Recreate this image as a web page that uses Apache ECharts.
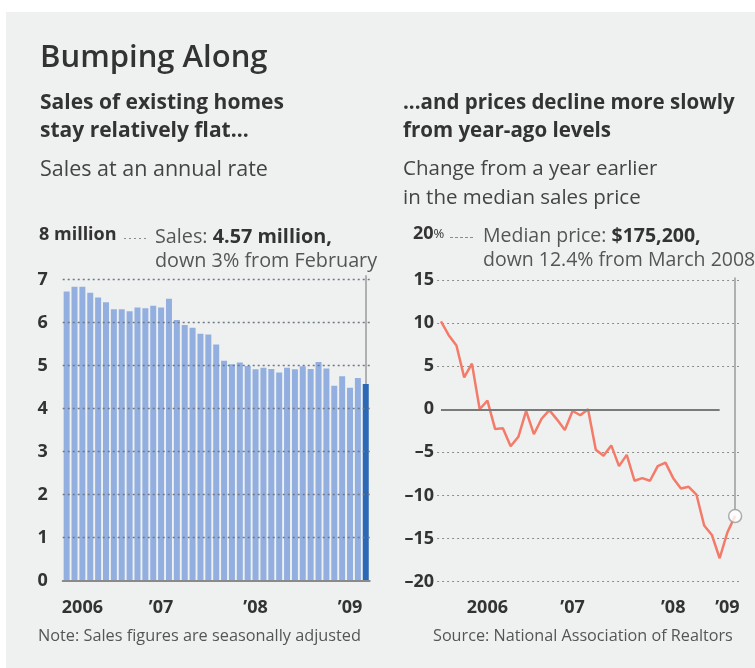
<!DOCTYPE html>
<html lang="en">
<head>
<meta charset="UTF-8">
<title>Bumping Along</title>
<script src="https://cdn.jsdelivr.net/npm/echarts@6/dist/echarts.min.js"></script>
<style>
  body { margin: 0; background: #fff; }
  #panel { position: absolute; left: 6px; top: 12px; width: 749px; height: 656px; background: #eff1f0; }
  #main { position: absolute; left: 0; top: 0; width: 755px; height: 668px; }
</style>
</head>
<body>
<div id="panel"></div>
<div id="main"></div>
<script>
// existing-home sales, millions at an annual rate, Jan 2006 - Mar 2009
var salesMonths = [
  '2006-01','2006-02','2006-03','2006-04','2006-05','2006-06','2006-07','2006-08','2006-09','2006-10','2006-11','2006-12',
  '2007-01','2007-02','2007-03','2007-04','2007-05','2007-06','2007-07','2007-08','2007-09','2007-10','2007-11','2007-12',
  '2008-01','2008-02','2008-03','2008-04','2008-05','2008-06','2008-07','2008-08','2008-09','2008-10','2008-11','2008-12',
  '2009-01','2009-02','2009-03'
];
var salesValues = [
  6.72, 6.83, 6.83, 6.69, 6.58, 6.47, 6.31, 6.31, 6.26, 6.35, 6.33, 6.39,
  6.35, 6.55, 6.06, 5.94, 5.88, 5.74, 5.72, 5.49, 5.11, 5.03, 5.07, 4.99,
  4.91, 4.95, 4.92, 4.84, 4.95, 4.91, 4.98, 4.92, 5.08, 4.93, 4.53, 4.75,
  4.48, 4.71, 4.57
];
// median price, % change from a year earlier, same months
var priceMonths = salesMonths.slice();
var priceChange = [
  10.2, 8.6, 7.4, 3.7, 5.3, 0.0, 1.0, -2.3, -2.2, -4.3, -3.2, -0.2,
  -2.9, -1.1, -0.1, -1.2, -2.4, -0.2, -0.7, 0.0, -4.7, -5.4, -4.2, -6.6,
  -5.3, -8.3, -8.0, -8.3, -6.6, -6.2, -8.0, -9.2, -9.0, -9.9, -13.5, -14.6,
  -17.3, -14.3, -12.4
];
var salesTicks = [1, 2, 3, 4, 5, 6, 7];
var yearLabels = { '2006': '2006', '2007': '\u201907', '2008': '\u201908', '2009': '\u201909' };
var salesLabelIdx = [2, 12, 24, 36];
var priceLabelIdx = [6, 17, 30, 37];

var FONT = '"Open Sans", "DejaVu Sans", sans-serif';
var ink = '#333';

var last = salesValues.length - 1;
var pLast = priceChange.length - 1;

var salesBars = salesValues.map(function (v, i) {
  return i === last ? { value: v, itemStyle: { color: '#2b68b5' } } : v;
});

function yearOf(s) { return yearLabels[s.slice(0, 4)]; }

var dotColor = '#8c8c8c';
var lblStyle = { fontFamily: FONT, fontSize: 18, fontWeight: 'bold', color: ink };

// dotted guides laid over the bars; grid is sized so they land on whole pixels
var salesGuides = salesTicks.map(function (v) {
  return { yAxis: v, lineStyle: { color: '#6f7787', width: 1.3, type: [2, 3] } };
});
salesGuides.push([
  { coord: [salesMonths[last], salesValues[last]], lineStyle: { color: '#9a9a9a', width: 1.5, type: 'solid' } },
  { coord: [salesMonths[last], 7.1] }
]);

var myChart = echarts.init(document.getElementById('main'));
var option = {
  animation: false,
  backgroundColor: 'transparent',
  grid: [
    { left: 62.7, width: 307, top: 236.5, height: 344 },
    { left: 437.1, width: 301.9, top: 237, height: 344.5 }
  ],
  xAxis: [
    {
      type: 'category', gridIndex: 0, data: salesMonths, boundaryGap: true, z: 6,
      axisLine: { lineStyle: { color: '#8a8a8a', width: 2 } },
      axisTick: {
        alignWithLabel: true, length: 8, lineStyle: { color: '#999', width: 1.5 },
        interval: function (i) { return i % 12 === 0; }
      },
      axisLabel: Object.assign({
        interval: function (i) { return salesLabelIdx.indexOf(i) >= 0; },
        formatter: function (v) { return yearOf(v); },
        margin: 18
      }, lblStyle)
    },
    {
      type: 'category', gridIndex: 1, data: priceMonths, boundaryGap: true,
      axisLine: { show: false },
      axisTick: {
        length: 10, lineStyle: { color: '#555', width: 1.5 },
        interval: function (i) { return i > 0 && i % 12 === 0; }
      },
      axisLabel: Object.assign({
        interval: function (i) { return priceLabelIdx.indexOf(i) >= 0; },
        formatter: function (v) { return yearOf(v); },
        margin: 17
      }, lblStyle)
    }
  ],
  yAxis: [
    {
      type: 'value', gridIndex: 0, min: 0, max: 8, interval: 1,
      axisLine: { show: false }, axisTick: { show: false },
      splitLine: { show: false },
      axisLabel: Object.assign({
        margin: 15,
        formatter: function (v) { return v === 8 ? '' : String(v); }
      }, lblStyle)
    },
    {
      type: 'value', gridIndex: 1, min: -20, max: 20, interval: 5,
      axisLine: { show: false }, axisTick: { show: false },
      splitLine: {
        lineStyle: {
          type: [2, 3], width: 1,
          color: [dotColor, dotColor, dotColor, dotColor, 'transparent', dotColor, dotColor, dotColor, 'transparent']
        }
      },
      axisLabel: Object.assign({
        margin: 3,
        formatter: function (v) { return v === 20 ? '' : (v < 0 ? '\u2013' + (-v) : String(v)); }
      }, lblStyle)
    }
  ],
  series: [
    {
      type: 'bar', xAxisIndex: 0, yAxisIndex: 0, data: salesBars,
      barCategoryGap: '24%',
      itemStyle: { color: '#92afe0' },
      markLine: {
        silent: true, symbol: 'none', label: { show: false },
        data: salesGuides
      }
    },
    {
      type: 'line', xAxisIndex: 1, yAxisIndex: 1, data: priceChange,
      symbol: 'none',
      lineStyle: { color: '#f47b69', width: 2.5 },
      z: 3,
      markLine: {
        silent: true, symbol: 'none', label: { show: false },
        lineStyle: { color: '#7a7a7a', width: 2, type: 'solid' },
        data: [[{ coord: [priceMonths[0], 0] }, { coord: [priceMonths[36], 0] }]]
      }
    },
    {
      type: 'scatter', xAxisIndex: 1, yAxisIndex: 1,
      data: [[priceMonths[pLast], priceChange[pLast]]],
      symbol: 'circle', symbolSize: 13, z: 4,
      itemStyle: { color: '#fff', borderColor: '#9a9a9a', borderWidth: 1.5 },
      markLine: {
        silent: true, symbol: 'none', label: { show: false },
        lineStyle: { color: '#9a9a9a', width: 1.5, type: 'solid' },
        data: [[{ coord: [priceMonths[pLast], priceChange[pLast] + 0.75] }, { coord: [priceMonths[pLast], 15.3] }]]
      }
    }
  ],
  graphic: [
    { type: 'text', left: 40, top: 43, style: { text: 'Bumping Along', font: '600 31px ' + FONT, fill: ink } },
    { type: 'text', left: 40, top: 89, style: { text: 'Sales of existing homes\nstay relatively flat...', font: 'bold 21px ' + FONT, fill: ink, lineHeight: 28 } },
    { type: 'text', left: 40, top: 155, style: { text: 'Sales at an annual rate', font: '21.5px ' + FONT, fill: '#444', lineHeight: 29 } },
    { type: 'text', left: 403, top: 89, style: { text: '...and prices decline more slowly\nfrom year-ago levels', font: 'bold 20.5px ' + FONT, fill: ink, lineHeight: 28 } },
    { type: 'text', left: 403, top: 155, style: { text: 'Change from a year earlier\nin the median sales price', font: '20.5px ' + FONT, fill: '#444', lineHeight: 29 } },

    { type: 'text', left: 39, top: 226, style: { text: '8 million', font: 'bold 18px ' + FONT, fill: ink } },
    { type: 'line', shape: { x1: 124, y1: 238.5, x2: 148, y2: 238.5 }, style: { stroke: '#8c8c8c', lineWidth: 1, lineDash: [2, 3] } },
    { type: 'text', left: 155, top: 225, style: {
      text: 'Sales: {b|4.57 million,}\ndown 3% from February', font: '19.8px ' + FONT, fill: '#555', lineHeight: 24,
      rich: { b: { fontFamily: FONT, fontSize: 19.8, fontWeight: 'bold', fill: ink } } } },

    { type: 'text', left: 413, top: 225, style: { text: '20{p|%}', font: 'bold 18px ' + FONT, fill: ink,
      rich: { p: { fontFamily: FONT, fontSize: 13, fill: ink } } } },
    { type: 'line', shape: { x1: 450, y1: 237.5, x2: 473, y2: 237.5 }, style: { stroke: '#8c8c8c', lineWidth: 1, lineDash: [3, 2] } },
    { type: 'text', left: 483, top: 224, style: {
      text: 'Median price: {b|$175,200,}\ndown 12.4% from March 2008', font: '19.5px ' + FONT, fill: '#555', lineHeight: 24,
      rich: { b: { fontFamily: FONT, fontSize: 19.5, fontWeight: 'bold', fill: ink } } } },

    { type: 'text', left: 38, top: 628, style: { text: 'Note: Sales figures are seasonally adjusted', font: '16.3px ' + FONT, fill: '#555' } },
    { type: 'text', left: 433, top: 628, style: { text: 'Source: National Association of Realtors', font: '16.2px ' + FONT, fill: '#555' } }
  ]
};
myChart.setOption(option);
</script>
</body>
</html>
